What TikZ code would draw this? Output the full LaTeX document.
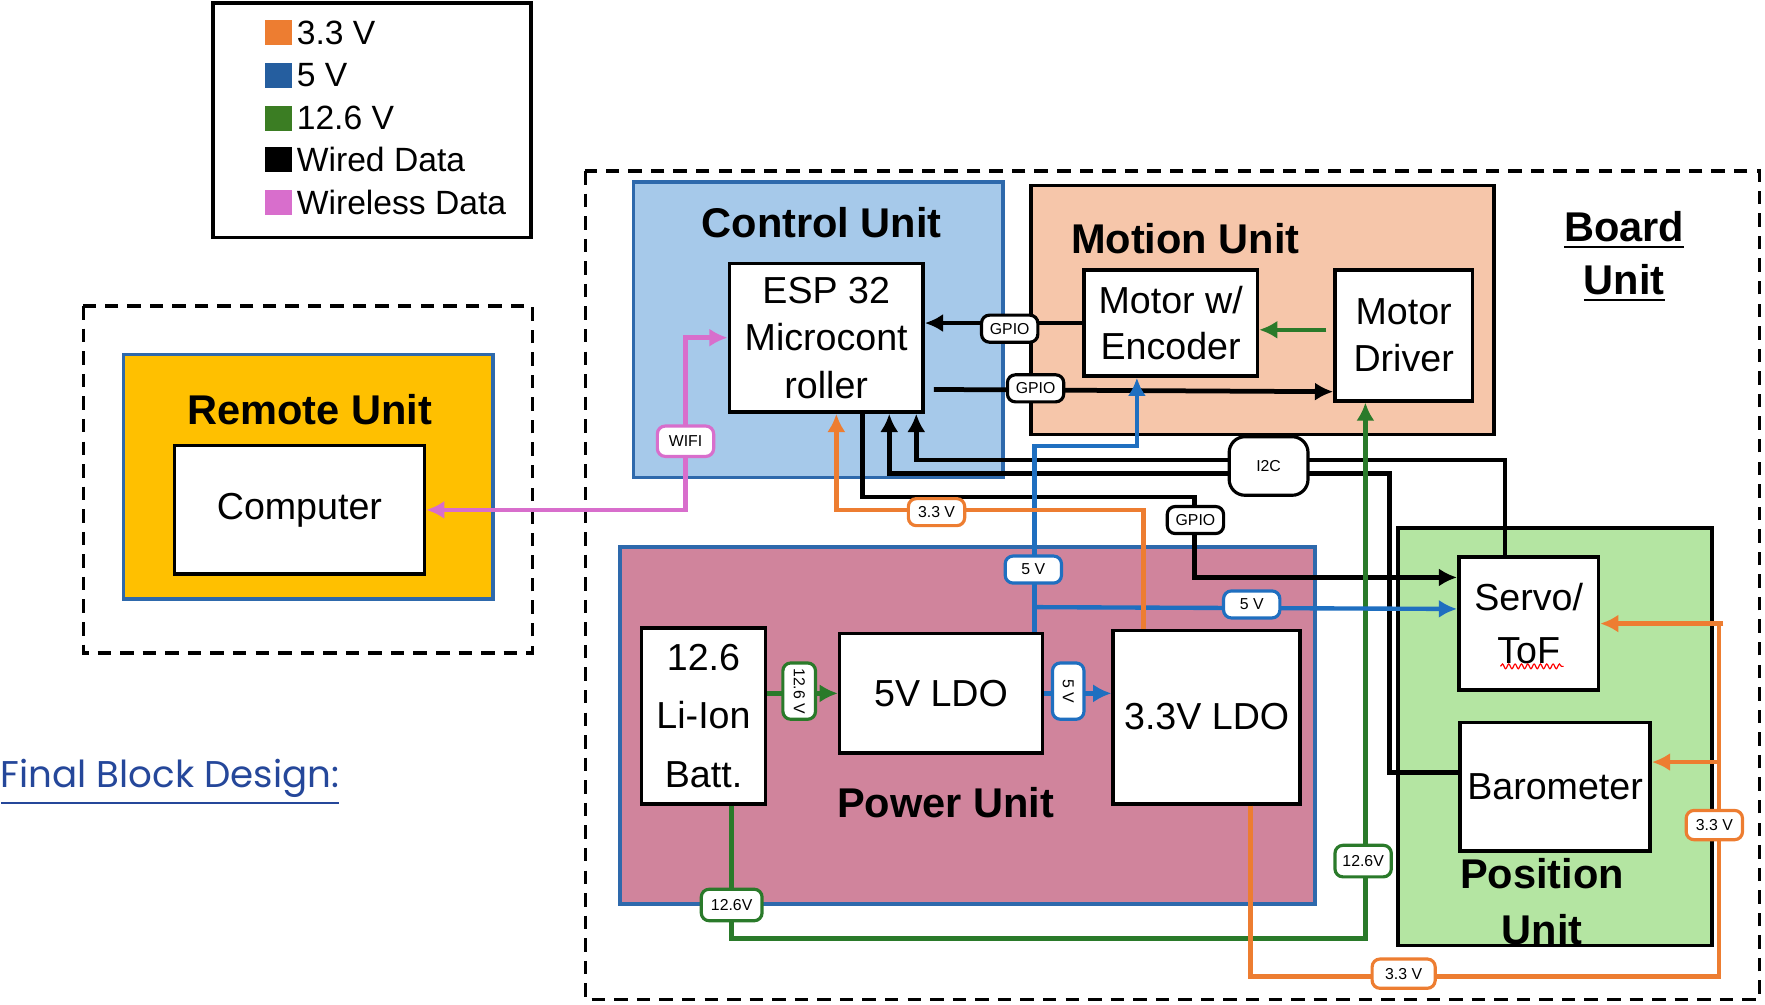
\documentclass[tikz,border=0pt]{standalone}
\usepackage{fontspec}
\setmainfont{Liberation Sans}
\newfontfamily\popfont{Poppins}
\usetikzlibrary{calc,arrows.meta,decorations.pathmorphing}
\definecolor{vthree}{HTML}{ED7D31}
\definecolor{vfive}{HTML}{1F6FC0}
\definecolor{vtwelve}{HTML}{2A7A2A}
\definecolor{wless}{HTML}{D86ECC}
\definecolor{legblue}{HTML}{255E9F}
\definecolor{leggreen}{HTML}{3B7D23}
\definecolor{ctrlfill}{HTML}{A6C9EA}
\definecolor{motfill}{HTML}{F6C6AA}
\definecolor{powfill}{HTML}{D0849C}
\definecolor{posfill}{HTML}{B4E5A2}
\definecolor{remfill}{HTML}{FFC000}
\definecolor{unitedge}{HTML}{2E69AC}
\definecolor{titleblue}{HTML}{25479A}

\begin{document}
\begin{tikzpicture}[x=0.01cm, y=-0.01cm, >={Latex[length=4.6pt,width=4.6pt]},
    every node/.style={font=\fontsize{9.5}{12}\selectfont},
    block/.style={draw, line width=0.9pt, fill=white, align=center, inner sep=0pt},
    unitbox/.style={draw=#1, line width=0.9pt, inner sep=0pt},
    unittitle/.style={font=\fontsize{10.5}{13.5}\selectfont\bfseries, align=center},
    tag/.style={draw=#1, fill=white, rounded corners=2pt, line width=0.8pt, inner sep=0.5pt,
      minimum width=0.5cm, minimum height=0.24cm, font=\fontsize{4}{5}\selectfont},
    wire/.style={line width=1.2pt},
    pw33/.style={vthree, line width=1.1pt},
    pw5/.style={vfive, line width=1.1pt},
    pw12/.style={vtwelve, line width=1.1pt},
    wifi/.style={wless, line width=1.1pt},
    swatch/.style={fill=#1, minimum width=0.24cm, minimum height=0.22cm, inner sep=0pt},
    legtext/.style={anchor=west, font=\fontsize{8.5}{10}\selectfont, inner sep=0pt},
    groupbox/.style={draw, line width=0.9pt, dash pattern=on 3.4pt off 2.3pt}
  ]
\useasboundingbox (0,0) rectangle (1568,892);

% legend
\draw[line width=1pt] (189,3) rectangle (472,211);
\node[swatch=vthree] (sw1) at (247,29) {}; \node[legtext] (lg1) at (263,29) {3.3 V};
\node[swatch=legblue] (sw2) at (247,67) {}; \node[legtext] (lg2) at (263,67) {5 V};
\node[swatch=leggreen] (sw3) at (247,105) {}; \node[legtext] (lg3) at (263,105) {12.6 V};
\node[swatch=black] (sw4) at (247,142) {}; \node[legtext] (lg4) at (263,142) {Wired Data};
\node[swatch=wless] (sw5) at (247,180) {}; \node[legtext] (lg5) at (263,180) {Wireless Data};

% groups
\draw[groupbox] (74,272) rectangle (473,580);
\draw[groupbox] (520,152) rectangle (1563,888);

% units
\node[unitbox=unitedge, fill=remfill, minimum width=3.28cm, minimum height=2.17cm] (remote) at (274,423.5) {};
\node[unitbox=unitedge, fill=ctrlfill, minimum width=3.28cm, minimum height=2.62cm] (control) at (727,293) {};
\node[unitbox=black, fill=motfill, minimum width=4.11cm, minimum height=2.21cm] (motion) at (1121.5,275.5) {};
\node[unitbox=unitedge, fill=powfill, minimum width=6.17cm, minimum height=3.17cm] (power) at (859.5,644.5) {};
\node[unitbox=black, fill=posfill, minimum width=2.79cm, minimum height=3.71cm] (position) at (1381.5,654.5) {};

\node[unittitle] (tremote) at (275,364) {Remote Unit};
\node[unittitle] (tcontrol) at (730,198) {Control Unit};
\node[unittitle] (tmotion) at (1053,212) {Motion Unit};
\node[unittitle] (tpower) at (840,713) {Power Unit};
\node[unittitle, font=\fontsize{10.5}{14.2}\selectfont\bfseries] (tposition) at (1370,801) {Position\\Unit};
\node[unittitle, font=\fontsize{10.5}{13.4}\selectfont\bfseries] (tboard) at (1443,228) {\underline{Board}\\\underline{Unit}};

% blocks
\node[block, minimum width=2.22cm, minimum height=1.14cm] (comp) at (266,453) {Computer};
\node[block, minimum width=1.72cm, minimum height=1.32cm] (esp) at (734,300) {ESP 32\\Microcont\\roller};
\node[block, minimum width=1.54cm, minimum height=0.94cm, font=\fontsize{9.5}{11.7}\selectfont] (enc) at (1040,287) {Motor w/\\Encoder};
\node[block, minimum width=1.22cm, minimum height=1.16cm] (drv) at (1247,298) {Motor\\Driver};
\node[block, minimum width=1.10cm, minimum height=1.56cm, font=\fontsize{9.5}{14.7}\selectfont] (batt) at (625,636) {12.6\\Li-Ion\\Batt.};
\node[block, minimum width=1.80cm, minimum height=1.06cm] (ldo5) at (836,616) {5V LDO};
\node[block, minimum width=1.66cm, minimum height=1.54cm] (ldo33) at (1072,637) {3.3V LDO};
\node[block, minimum width=1.24cm, minimum height=1.18cm, font=\fontsize{9.5}{13.4}\selectfont] (servo) at (1358,554) {Servo/\\ToF};
\node[block, minimum width=1.69cm, minimum height=1.14cm] (baro) at (1381.5,699) {Barometer};
\draw[red, line width=0.3pt, decorate, decoration={snake, amplitude=0.6pt, segment length=1.6pt}] (1333,592) -- (1389,592);

% wireless
\draw[wifi, <->] (comp.east) -| (609,300) -- (esp.west);

% wired data
\draw[wire, ->] (enc.west) -- (esp.east |- enc.west);
\draw[wire, ->] ($(esp.east)+(8,46)$) -- ($(drv.west)+(0,50)$);
\draw[wire, ->] ($(esp.south)+(32,0)$) -- ++(0,74) -- ++(295,0) |- ($(servo.west)+(0,-41)$);
\draw[wire, ->] ($(servo.north)+(-21,0)$) |- ($(esp.south)+(80,41)$) -- ($(esp.south)+(80,0)$);
\draw[wire, ->] ($(baro.west)+(0,-13)$) -- ++(-61,0) |- ($(esp.south)+(56,53)$) -- ($(esp.south)+(56,0)$);

% 12.6 V
\draw[pw12, ->] (batt.east |- ldo5.west) -- (ldo5.west);
\draw[pw12, ->] ($(drv.west)+(-6,-5)$) -- ($(enc.east)+(0,6)$);
\draw[pw12, ->] ($(batt.south)+(25,0)$) -- ++(0,118) -| ($(drv.south)+(-34,0)$);

% 5 V
\coordinate (fiveup) at ($(ldo5.north)+(83,0)$);
\draw[pw5, ->] (ldo5.east) -- (ldo33.west |- ldo5.east);
\draw[pw5, ->] (fiveup) -- ++(0,-165) -| ($(enc.south)+(-30,0)$);
\draw[pw5, ->] ($(fiveup)+(0,-22)$) -- ($(servo.west)+(0,-13)$);

% 3.3 V
\coordinate (rail) at (1527,554);
\coordinate (barin) at ($(baro.east)+(0,-22)$);
\draw[pw33, ->] ($(ldo33.north)+(-56,0)$) -- ++(0,-105) -| ($(esp.south)+(9,0)$);
\draw[pw33] ($(ldo33.south)+(39,0)$) -- ++(0,152) -| (rail);
\draw[pw33, ->] ($(rail)+(4,0)$) -- (servo.east);
\draw[pw33, ->] (rail |- barin) -- (barin);

% tags
\node[tag=black] (gpioa) at (897,292) {GPIO};
\node[tag=black] (gpiob) at (920,345) {GPIO};
\node[tag=black] (gpioc) at (1062,462) {GPIO};
\node[tag=black, minimum width=0.7cm, minimum height=0.52cm, rounded corners=4pt] (i2c) at (1127,414) {I2C};
\node[tag=wless, minimum height=0.27cm] (wifitag) at (609,392) {WIFI};
\node[tag=vthree] (v33a) at (832,455) {3.3 V};
\node[tag=vthree, minimum height=0.26cm] (v33b) at (1523,733) {3.3 V};
\node[tag=vthree, minimum width=0.56cm, minimum height=0.26cm] (v33c) at (1247,865) {3.3 V};
\node[tag=vfive] (v5a) at (918,506) {5 V};
\node[tag=vfive] (v5b) at (1112,537) {5 V};
\node[tag=vfive, rotate=-90, minimum width=0.5cm, minimum height=0.28cm] (v5c) at (949,614) {5 V};
\node[tag=vtwelve, rotate=-90, minimum width=0.5cm, minimum height=0.29cm] (v12a) at (710,614) {12.6 V};
\node[tag=vtwelve, minimum width=0.54cm, minimum height=0.28cm] (v12b) at (650,804) {12.6V};
\node[tag=vtwelve, minimum height=0.28cm] (v12c) at (1211,765) {12.6V};

% caption
\node[anchor=west, inner sep=0pt, text=titleblue, font=\popfont\fontsize{9.4}{11}\selectfont] (caption) at (0,695) {\underline{Final Block Design:}};
\end{tikzpicture}
\end{document}
